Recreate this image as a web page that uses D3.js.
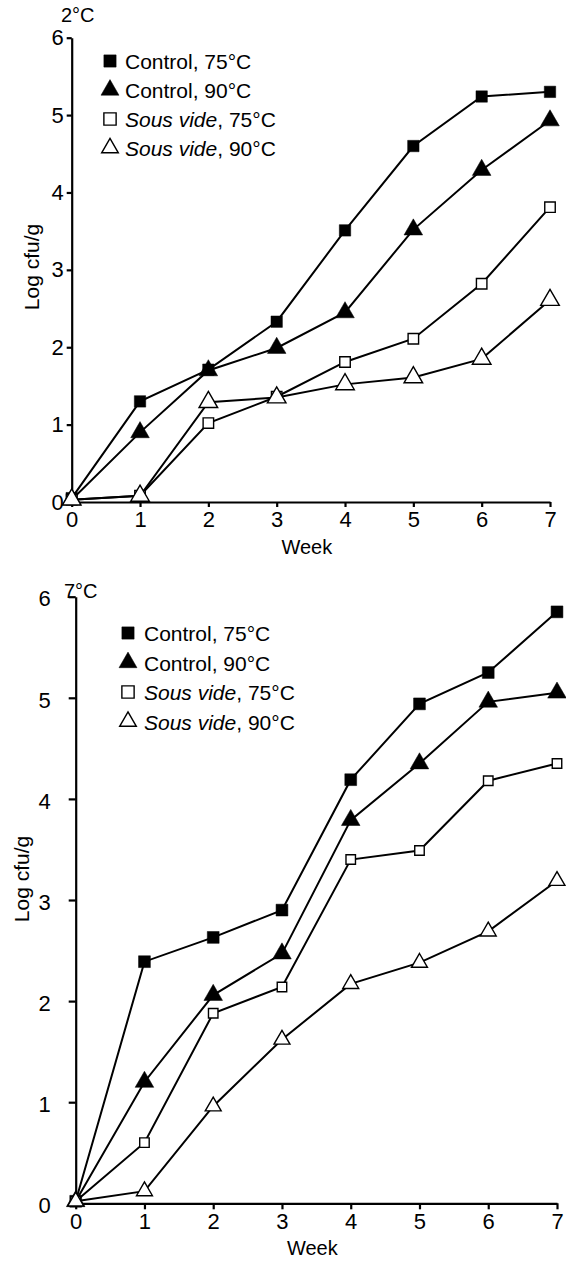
<!DOCTYPE html>
<html>
<head>
<meta charset="utf-8">
<script src="https://cdn.jsdelivr.net/npm/d3@7"></script>
<style>
  html, body { margin: 0; padding: 0; background: #fff; }
  svg { display: block; }
  text { font-family: "Liberation Sans", Arial, sans-serif; fill: #000; }
</style>
</head>
<body>
<svg id="chart" width="566" height="1264"></svg>
<script>
// ---- data ----
const weeks = [0, 1, 2, 3, 4, 5, 6, 7];
const yTicks = [0, 1, 2, 3, 4, 5, 6];
const seriesNames = ["Control, ", "Control, ", "Sous vide", "Sous vide"];
const seriesTemps = ["75°C", "90°C", "75°C", "90°C"];
const seriesItalic = [false, false, true, true];

// 2°C storage
const control75_2 = [0.05, 1.30, 1.71, 2.33, 3.51, 4.60, 5.24, 5.30];
const control90_2 = [0.03, 0.90, 1.70, 1.99, 2.45, 3.52, 4.29, 4.93];
const sousvide75_2 = [0.03, 0.08, 1.02, 1.36, 1.81, 2.11, 2.82, 3.81];
const sousvide90_2 = [0.03, 0.08, 1.29, 1.35, 1.52, 1.61, 1.85, 2.61];

// 7°C storage
const control75_7 = [0.02, 2.39, 2.63, 2.90, 4.19, 4.94, 5.25, 5.85];
const control90_7 = [0.02, 1.20, 2.06, 2.47, 3.79, 4.35, 4.96, 5.05];
const sousvide75_7 = [0.02, 0.60, 1.88, 2.14, 3.40, 3.49, 4.18, 4.35];
const sousvide90_7 = [0.02, 0.12, 0.96, 1.62, 2.17, 2.38, 2.69, 3.19];

const svg = d3.select("#chart");
const FONT = "Liberation Sans, Arial, sans-serif";

function drawChart(cfg, seriesList) {
  const x = d3.scaleLinear().domain([0, 7]).range([cfg.x0, cfg.x1]);
  const y = d3.scaleLinear().domain([0, 6]).range([cfg.y0, cfg.y1]);
  const g = svg.append("g");

  // axes
  const xAxis = d3.axisBottom(x).tickValues(weeks).tickFormat(d3.format("d"))
    .tickSize(cfg.xTick).tickPadding(4).tickSizeOuter(0);
  const gx = g.append("g").attr("transform", `translate(0,${cfg.y0})`).call(xAxis);
  gx.select(".domain").attr("stroke", "#000").attr("stroke-width", 2.2);
  gx.selectAll(".tick line").attr("stroke", "#000").attr("stroke-width", 2.2);
  gx.selectAll(".tick text").attr("font-size", 22).attr("font-family", FONT).attr("fill", "#000");

  const yAxis = d3.axisLeft(y).tickValues(yTicks).tickFormat(d3.format("d"))
    .tickSize(cfg.yTick).tickPadding(cfg.yPad).tickSizeOuter(0);
  const gy = g.append("g").attr("transform", `translate(${cfg.x0},0)`).call(yAxis);
  gy.select(".domain").attr("stroke", "#000").attr("stroke-width", 2.2);
  gy.selectAll(".tick line").attr("stroke", "#000").attr("stroke-width", 2.2);
  gy.selectAll(".tick text").attr("font-size", 22).attr("font-family", FONT).attr("fill", "#000")
    .attr("dy", cfg.yDy);

  // labels
  g.append("text").attr("x", (cfg.x0 + cfg.x1) / 2 - 4).attr("y", cfg.y0 + 52)
    .attr("text-anchor", "middle").attr("font-size", 20).text("Week");
  g.append("text")
    .attr("transform", `translate(${cfg.ylabX},${cfg.ylabY}) rotate(-90)`)
    .attr("text-anchor", "middle").attr("font-size", 21).text("Log cfu/g");
  g.append("text").attr("x", cfg.titleX).attr("y", cfg.titleY)
    .attr("font-size", 20).text(cfg.title);

  const line = d3.line().x((d, i) => x(weeks[i])).y(d => y(d));
  const styles = [
    { type: "square", fill: "#000", size: cfg.fsq },
    { type: "triangle", fill: "#000", size: cfg.ftri },
    { type: "square", fill: "#fff", size: cfg.osq },
    { type: "triangle", fill: "#fff", size: cfg.otri }
  ];

  function marker(sel, st) {
    const sym = st.type === "square" ? d3.symbolSquare : d3.symbolTriangle;
    sel.attr("d", d3.symbol().type(sym).size(st.size)())
      .attr("fill", st.fill)
      .attr("stroke", "#000")
      .attr("stroke-width", st.fill === "#000" ? 0.5 : 1.4);
  }

  seriesList.forEach((vals) => {
    g.append("path").datum(vals).attr("d", line)
      .attr("fill", "none").attr("stroke", "#000").attr("stroke-width", 2);
  });
  seriesList.forEach((vals, si) => {
    g.selectAll(null).data(vals).enter().append("path")
      .attr("transform", (d, i) => `translate(${x(weeks[i])},${y(d)})`)
      .call(marker, styles[si]);
  });

  // legend
  const legSizes = [150, 140, 150, 120];
  seriesNames.forEach((nm, i) => {
    const ly = cfg.legY + i * cfg.legDy;
    g.append("path").attr("transform", `translate(${cfg.legMx},${ly})`).call(marker, {
      type: styles[i].type, fill: styles[i].fill, size: legSizes[i]
    });
    const t = g.append("text").attr("x", cfg.legTx).attr("y", ly + 8).attr("font-size", 21);
    if (seriesItalic[i]) {
      t.append("tspan").attr("font-style", "italic").text(nm);
      t.append("tspan").text(", " + seriesTemps[i]);
    } else {
      t.append("tspan").text(nm + seriesTemps[i]);
    }
  });
}

drawChart({
  x0: 71.7, x1: 550, y0: 502, y1: 37.7,
  xTick: 5, yTick: 5, yPad: 3, yDy: "0.32em",
  ylabX: 39, ylabY: 267,
  title: "2°C", titleX: 61, titleY: 22,
  fsq: 130, ftri: 150, osq: 110, otri: 150,
  legMx: 110, legTx: 125, legY: 61, legDy: 29
}, [control75_2, control90_2, sousvide75_2, sousvide90_2]);

drawChart({
  x0: 75.7, x1: 557, y0: 1203.3, y1: 596.7,
  xTick: 6, yTick: 7, yPad: 18, yDy: "0.42em",
  ylabX: 29, ylabY: 879,
  title: "7°C", titleX: 64, titleY: 598,
  fsq: 140, ftri: 150, osq: 90, otri: 110,
  legMx: 128, legTx: 144, legY: 633, legDy: 29.5
}, [control75_7, control90_7, sousvide75_7, sousvide90_7]);
</script>
</body>
</html>
